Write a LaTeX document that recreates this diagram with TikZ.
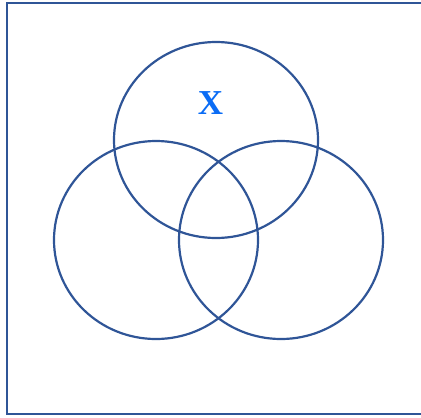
\documentclass[tikz,border=0pt]{standalone}
\usepackage{fontspec}
\setmainfont{Liberation Serif}
\usepackage{xcolor}
\usetikzlibrary{shapes.geometric, positioning}
\definecolor{setblue}{HTML}{2F5597}
\definecolor{labelblue}{HTML}{0A6CF5}

\begin{document}
\begin{tikzpicture}[x=1pt, y=-1pt,
    setcircle/.style={ellipse, draw=setblue, line width=2.2pt, inner sep=0pt, minimum width=204pt, minimum height=196pt},
    universe/.style={rectangle, draw=setblue, line width=2.4pt, inner sep=0pt}
]
\useasboundingbox (0,0) rectangle (421,418);
\draw[universe] (7,3) rectangle (424,414);

\node[setcircle] (top)   at (216,140) {};
\node[setcircle, minimum height=198pt] (left)  at (156,240) {};
\node[setcircle, minimum height=198pt] (right) at (281,240) {};

\node[text=labelblue, font=\fontsize{35}{40}\selectfont\bfseries] (xlabel) at (210.5,103.5) {X};
\end{tikzpicture}
\end{document}
